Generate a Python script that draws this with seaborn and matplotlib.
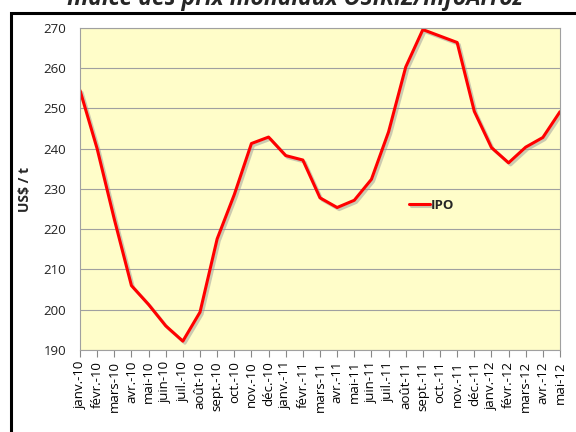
import matplotlib
matplotlib.use("Agg")
import matplotlib.pyplot as plt
import matplotlib.patheffects as pe
from matplotlib.patches import Rectangle
import seaborn as sns
import pandas as pd

months = ["janv.-10", "févr.-10", "mars-10", "avr.-10", "mai-10", "juin-10", "juil.-10",
          "août-10", "sept.-10", "oct.-10", "nov.-10", "déc.-10", "janv.-11", "févr.-11",
          "mars-11", "avr.-11", "mai-11", "juin-11", "juil.-11", "août-11", "sept.-11",
          "oct.-11", "nov.-11", "déc.-11", "janv.-12", "févr.-12", "mars-12", "avr.-12", "mai-12"]
ipo = [254.5, 240.0, 222.5, 206.0, 201.3, 196.0, 192.2, 199.4, 217.6, 228.6, 241.3, 242.9,
       238.3, 237.2, 227.8, 225.4, 227.2, 232.4, 244.2, 260.3, 269.6, 268.0, 266.4, 249.3,
       240.3, 236.5, 240.4, 242.8, 249.2]
yticks = [190, 200, 210, 220, 230, 240, 250, 260, 270]

df = pd.DataFrame({"idx": range(len(months)), "IPO": ipo, "mois": months})

sns.set_theme(style="white")
plt.rcParams["font.family"] = ["Open Sans", "DejaVu Sans"]

fig = plt.figure(figsize=(5.76, 4.32), dpi=100)
ax = fig.add_axes([80/576, 1-350/432, 480/576, 322/432])
ax.set_facecolor("#FFFDC9")

sns.lineplot(data=df, x="idx", y="IPO", ax=ax, color="#FF0000", linewidth=2.2,
             label="IPO",
             path_effects=[pe.SimpleLineShadow(offset=(1.5, -1.5), shadow_color="#999999", alpha=0.5), pe.Normal()])

ax.set_xlim(0, len(months)-1)
ax.set_ylim(190, 270)
ax.set_yticks(yticks)
ax.set_xticks(range(len(months)))
ax.set_xticklabels(months, rotation=90, fontsize=9.5, color="black")
ax.tick_params(axis="y", labelsize=9.5, length=0, pad=10, labelcolor="#222222")
ax.tick_params(axis="x", length=5, width=0.8, color="#888888", direction="out", pad=3, bottom=True)
ax.grid(axis="y", color="#A0A0A0", linewidth=0.8)
ax.set_axisbelow(True)
for s in ax.spines.values():
    s.set_color("#A0A0A0")
    s.set_linewidth(0.8)
ax.set_xlabel("")
ax.set_ylabel("US$ / t", fontsize=10, fontweight="bold", labelpad=8)

leg = ax.legend(loc="center left", bbox_to_anchor=(0.66, 0.45), frameon=False,
                fontsize=9.5, handlelength=1.6, handletextpad=0.1)
for t in leg.get_texts():
    t.set_fontweight("bold")

fig.patches.append(Rectangle((11/576, -0.05), 1.0, 1-13/432+0.05, transform=fig.transFigure,
                             fill=False, edgecolor="black", linewidth=2.2))

fig.text(295/576, 1-5/432, "Indice des prix mondiaux OSIRIZ/InfoArroz", ha="center", va="baseline",
         fontsize=16.5, fontweight="bold", fontstyle="italic")

fig.savefig("out.png", dpi=100)
